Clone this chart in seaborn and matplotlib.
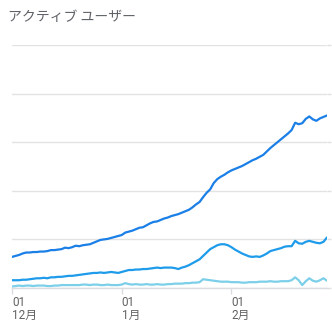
import numpy as np
import pandas as pd
import matplotlib
matplotlib.use("Agg")
import matplotlib.pyplot as plt
import seaborn as sns

# ---- data (arbitrary units, grid step = 100) ----
start_date = "2023-12-01"
n_days = 90

users_30d = [64, 66, 68, 71, 73, 73, 74, 74, 75, 75, 76, 78, 78, 79, 80, 83, 82, 84, 87, 86,
             88, 89, 90, 93, 96, 99, 100, 101, 103, 105, 107, 109, 114, 116, 118, 121, 124, 125, 129, 133,
             136, 137, 140, 143, 145, 148, 150, 152, 155, 158, 161, 166, 172, 177, 187, 196, 203, 216, 224, 229,
             233, 238, 242, 245, 248, 251, 255, 259, 263, 266, 270, 274, 281, 288, 294, 300, 306, 312, 318, 325,
             340, 337, 339, 348, 353, 347, 344, 349, 352, 355]

users_7d = [16, 16, 16, 17, 17, 18, 19, 20, 20, 21, 20, 22, 22, 23, 23, 24, 25, 25, 26, 27,
            28, 29, 30, 31, 31, 32, 31, 32, 33, 32, 31, 33, 35, 37, 37, 38, 38, 39, 39, 40,
            41, 42, 41, 42, 42, 42, 41, 39, 42, 44, 47, 51, 55, 59, 66, 73, 80, 84, 88, 90,
            90, 88, 84, 79, 75, 71, 68, 65, 64, 65, 64, 67, 71, 76, 78, 80, 82, 85, 86, 86,
            97, 92, 91, 95, 97, 95, 93, 92, 95, 104]

users_1d = [3, 4, 5, 4, 5, 5, 4, 5, 5, 5, 4, 4, 5, 5, 6, 6, 6, 6, 6, 6,
            7, 7, 6, 7, 7, 6, 6, 7, 6, 6, 6, 7, 10, 8, 7, 8, 7, 7, 8, 7,
            7, 8, 7, 7, 8, 8, 9, 9, 9, 10, 10, 11, 11, 12, 18, 17, 16, 15, 14, 13,
            13, 13, 12, 12, 12, 11, 11, 12, 12, 12, 13, 13, 13, 14, 13, 13, 14, 14, 14, 16,
            22, 16, 6, 14, 20, 15, 13, 16, 20, 15]

series_names = ["30日", "7日", "1日"]
series_colors = ["#1a7fe6", "#1e9bea", "#7ccfe9"]
tick_dates = ["2023-12-01", "2024-01-01", "2024-02-01"]
tick_labels = ["01\n12月", "01\n1月", "01\n2月"]
title = "アクティブ ユーザー"
y_grid = [0, 100, 200, 300, 400, 500]

# ---- build long table ----
dates = pd.date_range(start_date, periods=n_days, freq="D")
df = pd.concat([
    pd.DataFrame({"date": dates, "users": vals, "series": name})
    for name, vals in zip(series_names, [users_30d, users_7d, users_1d])
], ignore_index=True)

sns.set_style("white")
plt.rcParams["font.family"] = ["Roboto", "Noto Sans CJK JP", "DejaVu Sans"]

fig = plt.figure(figsize=(3.32, 3.26), dpi=100)
ax = fig.add_axes([12 / 332, 1 - 288 / 326, (327 - 12) / 332, (288 - 45) / 326])

sns.lineplot(data=df, x="date", y="users", hue="series", hue_order=series_names,
             palette=series_colors, linewidth=1.6, legend=False, ax=ax)

ax.set_xlim(dates[0], dates[-1])
ax.set_ylim(y_grid[0], y_grid[-1])
ax.set_xlabel("")
ax.set_ylabel("")

# y: gridlines + small ticks on the right, no labels
ax.set_yticks(y_grid)
ax.yaxis.tick_right()
ax.tick_params(axis="y", right=True, left=False, length=3, width=1,
               color="#e0e0e0", labelright=False)
ax.grid(axis="y", color="#e3e3e3", linewidth=1)
ax.grid(axis="x", visible=False)

# x ticks
ax.set_xticks(pd.to_datetime(tick_dates))
ax.set_xticklabels(tick_labels, fontsize=8.5, color="#616161", linespacing=1.0)
for lab in ax.get_xticklabels():
    lab.set_horizontalalignment("left")
ax.tick_params(axis="x", bottom=True, length=4, width=1, color="#dadce0", pad=2)

for s in ["top", "left", "right"]:
    ax.spines[s].set_visible(False)
ax.spines["bottom"].set_color("#dadce0")
ax.spines["bottom"].set_linewidth(1)

fig.text(8 / 332, 1 - 17 / 326, title, fontsize=10, color="#5f6368",
         va="center", ha="left", family=["Noto Sans CJK JP", "DejaVu Sans"])

fig.savefig("out.png", dpi=100)
